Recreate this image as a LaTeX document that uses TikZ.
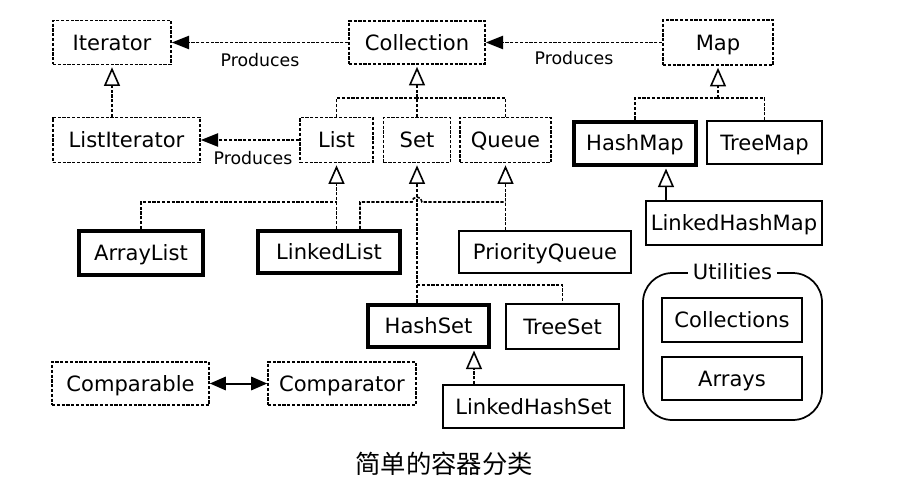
\documentclass[tikz,border=0pt]{standalone}
\usepackage{fontspec}
\setmainfont{DejaVu Sans}
\newfontfamily\cjk{Noto Sans CJK SC}
\usetikzlibrary{arrows.meta,calc}
\newlength\px
\setlength\px{0.75pt}
\tikzset{
  sz/.style 2 args={minimum width=#1*\px, minimum height=#2*\px},
  box/.style={draw, line width=1.2pt, inner sep=0pt, text height=11.5pt, text depth=0pt,
              font=\fontsize{15.8}{18}\selectfont},
  iface/.style={box, dash pattern=on 2.4pt off 1.2pt},
  cls/.style={box, line width=1.2pt},
  heavy/.style={box, line width=3pt},
  dline/.style={line width=1.2pt, dash pattern=on 2.4pt off 1.2pt},
  produce/.style={dline, -{Triangle[length=13pt,width=10pt]}},
  inh/.style={dline, -{Triangle[open,length=14pt,width=12pt,line width=1.2pt]}, shorten >=1.5pt},
  inhsolid/.style={line width=1.2pt, -{Triangle[open,length=14pt,width=12pt,line width=1.2pt]}, shorten >=1.5pt},
  lbl/.style={font=\fontsize{13}{15}\selectfont, inner sep=0pt},
  both/.style={line width=1.5pt, {Triangle[length=12pt,width=10pt]}-{Triangle[length=12pt,width=10pt]}},
}
\begin{document}
\begin{tikzpicture}[x=0.75pt,y=-0.75pt]
\useasboundingbox (0,0) rectangle (920,492);
% interfaces / classes
\node[iface, sz={118}{44}] (Iterator) at (112,42.5) {Iterator};
\node[iface, sz={136}{43}] (Collection) at (417,42.5) {Collection};
\node[iface, sz={110}{45}] (Map) at (718,42.5) {Map};
\node[iface, sz={147}{45}] (ListIterator) at (126.5,140) {ListIterator};
\node[iface, sz={73}{45}] (List) at (336.5,140) {List};
\node[iface, sz={67}{45}] (Set) at (417,140) {Set};
\node[iface, sz={91}{45}] (Queue) at (505.5,140) {Queue};
\node[heavy, sz={122}{43}] (HashMap) at (635,143) {HashMap};
\node[cls, sz={115}{43}] (TreeMap) at (764.5,142.5) {TreeMap};
\node[cls, sz={176}{44}] (LinkedHashMap) at (734,223) {LinkedHashMap};
\node[heavy, sz={124}{44}] (ArrayList) at (141,253) {ArrayList};
\node[heavy, sz={142}{42}] (LinkedList) at (329,252) {LinkedList};
\node[cls, sz={172}{42}] (PriorityQueue) at (545,252) {PriorityQueue};
\node[heavy, sz={121}{42}] (HashSet) at (428.5,325.5) {HashSet};
\node[cls, sz={113}{45}] (TreeSet) at (562.5,326.5) {TreeSet};
\node[cls, sz={181}{43}] (LinkedHashSet) at (533.5,406.5) {LinkedHashSet};
\node[iface, sz={157}{43}] (Comparable) at (130.5,383.5) {Comparable};
\node[iface, sz={148}{43}] (Comparator) at (342,383.5) {Comparator};
% utilities group
\node[draw, line width=1.3pt, rounded corners=22pt, sz={179}{147}] (Utilities) at (732.5,346.5) {};
\node[fill=white, inner xsep=4pt, inner ysep=1pt, text height=11.5pt, text depth=0pt,
      font=\fontsize{15.8}{18}\selectfont] (UtilLabel) at (Utilities.north) {Utilities};
\node[cls, sz={140}{44}] (Collections) at (732,320) {Collections};
\node[cls, sz={140}{43}] (Arrays) at (732,378.5) {Arrays};
% caption
\node[font=\cjk\fontsize{19}{22}\selectfont] (caption) at (444,464) {简单的容器分类};

% helper coordinates
\coordinate (cj) at (417,98);
\coordinate (mj) at (718,98);
\coordinate (ly) at (0,202);
\coordinate (sy) at (0,285);
\coordinate (llq) at (360,0);
\coordinate (lhsx) at (474,0);
\coordinate (lhmx) at (666,0);

% produces
\draw[produce] (Collection.west) -- (Iterator.east) node[lbl, pos=0.5, yshift=-13.5pt] {Produces};
\draw[produce] (Map.west) -- (Collection.east) node[lbl, pos=0.5, yshift=-12pt] {Produces};
\draw[produce] (List.west) -- (ListIterator.east) node[lbl, pos=0.47, yshift=-13.5pt] {Produces};

% inheritance
\draw[inh] (ListIterator.north -| Iterator.south) -- (Iterator.south);
\draw[dline] (List.north) |- (cj);
\draw[dline] (Queue.north) |- (cj);
\draw[inh] (Set.north) -- (Collection.south);
\draw[dline] (HashMap.north) |- (mj);
\draw[dline] (TreeMap.north) |- (mj);
\draw[inh] (mj) -- (Map.south);
\draw[inhsolid] (LinkedHashMap.north -| lhmx) -- (HashMap.south -| lhmx);

\draw[dline] (ArrayList.north) |- (List.south |- ly);
\draw[inh] (LinkedList.north -| List.south) -- (List.south);
\draw[inh] (PriorityQueue.north -| Queue.south) -- (Queue.south);
\draw[dline] (LinkedList.north -| llq) |- ($(Set.south |- ly)+(-5,0)$)
   arc[start angle=180, end angle=0, radius=3.75pt] -- (Queue.south |- ly);
\draw[inh] (HashSet.north -| Set.south) -- (Set.south);
\draw[dline] (Set.south |- sy) -| (TreeSet.north);
\draw[inh] (LinkedHashSet.north -| lhsx) -- (HashSet.south -| lhsx);

\draw[both] (Comparable.east) -- (Comparator.west);
\end{tikzpicture}
\end{document}
